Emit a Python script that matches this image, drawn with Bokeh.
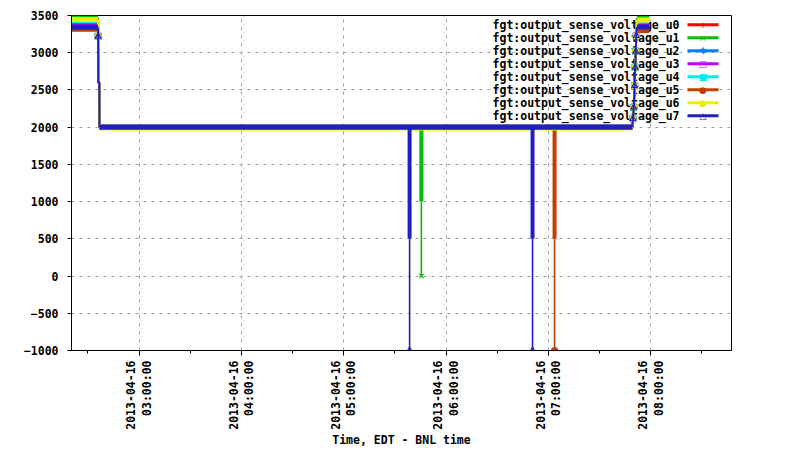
import math
import pandas as pd
from bokeh.plotting import figure
from bokeh.models import Range1d, FixedTicker, DatetimeTickFormatter, Label, BoxAnnotation
from bokeh.embed import file_html
from bokeh.resources import INLINE

DAY = "2013-04-16 "


def ts(s):
    return pd.Timestamp(DAY + s)


# ---------------- data ----------------
names = ["fgt:output_sense_voltage_u%d" % i for i in range(8)]
colors = ["#ff0000", "#00c000", "#0080ff", "#c000ff", "#00eeee", "#c04000", "#eeee00", "#2020c0"]
marker_types = ["cross", "x", "asterisk", "square", "square", "circle", "circle", "triangle"]
marker_filled = [False, False, False, False, True, True, True, False]
legend_symbols = ["+", "×", "✱", "□", "■", "●", "●", "△"]

x_range_start = "02:20:24"
x_range_end = "08:47:18"
y_range_start = -1000
y_range_end = 3500
y_ticks = [-1000, -500, 0, 500, 1000, 1500, 2000, 2500, 3000, 3500]
x_major_ticks = ["03:00:00", "04:00:00", "05:00:00", "06:00:00", "07:00:00", "08:00:00"]
x_minor_ticks = ["02:30:00", "03:30:00", "04:30:00", "05:30:00", "06:30:00", "07:30:00", "08:30:00"]

# stable levels per channel (u0..u7)
data_start = "02:20:24"
data_end = "07:59:00"
start_level = [3470, 3462, 3340, 3400, 3430, 3315, 3445, 3342]
plateau_level = [2000, 2000, 2000, 2000, 2000, 2000, 1988, 2000]
end_level = [3465, 3460, 3340, 3392, 3425, 3300, 3440, 3345]

# ramp down after start (first sample after the step carries a marker)
drop_times = ["02:35:58", "02:36:00", "02:36:05", "02:36:40", "02:36:45"]
drop_values = [3220, 2600, 2600]
drop_marked = [True, False, False]

# ramp up at the end
ramp_times = ["07:49:10", "07:49:30", "07:50:00", "07:50:30", "07:50:50", "07:51:10", "07:51:30", "07:51:50"]
ramp_values = [2113, 2265, 2557, 2802, 3017, 3228]

# glitches
spike_series = [7, 1, 7, 5]
spike_times = ["05:38:36", "05:45:30", "06:50:40", "07:03:35"]
spike_mid = [500, 1000, 500, 500]
spike_low = [-1000, 0, -1000, -1000]

# ---------------- figure ----------------
W, H = 800, 450
BL, BR, BT, BB = 71, 69, 15, 100
FW, FH = W - BL - BR, H - BT - BB

p = figure(width=W, height=H, x_axis_type="datetime", output_backend="svg",
           toolbar_location=None, min_border_left=BL, min_border_right=BR,
           min_border_top=BT, min_border_bottom=BB,
           x_range=Range1d(ts(x_range_start), ts(x_range_end)),
           y_range=Range1d(y_range_start, y_range_end))
p.background_fill_color = "white"
p.border_fill_color = "white"
p.outline_line_color = "black"
p.outline_line_width = 1

FONT = "DejaVu Sans Mono"
FS = "11.5px"

ms = lambda s: ts(s).value / 1e6
p.xaxis.ticker = FixedTicker(ticks=[ms(s) for s in x_major_ticks],
                             minor_ticks=[ms(s) for s in x_minor_ticks])
fmt = "%Y-%m-%d\n%H:%M:%S"
p.xaxis.formatter = DatetimeTickFormatter(
    microseconds=fmt, milliseconds=fmt, seconds=fmt, minsec=fmt, minutes=fmt,
    hourmin=fmt, hours=fmt, days=fmt, months=fmt, years=fmt)
p.xaxis.major_label_orientation = math.pi / 2
p.xaxis.axis_label = "Time, EDT - BNL time"
p.yaxis.ticker = FixedTicker(ticks=y_ticks)

for ax in (p.xaxis[0], p.yaxis[0]):
    ax.axis_line_color = "black"
    ax.major_tick_line_color = "black"
    ax.minor_tick_line_color = "black"
    ax.major_tick_in = 0
    ax.minor_tick_in = 0
    ax.major_label_text_font = FONT
    ax.major_label_text_font_style = "bold"
    ax.major_label_text_font_size = FS
    ax.major_label_text_color = "black"
    ax.axis_label_text_font = FONT
    ax.axis_label_text_font_style = "bold"
    ax.axis_label_text_font_size = FS
    ax.axis_label_text_color = "black"

p.xaxis.major_tick_out = 5
p.xaxis.minor_tick_out = 3
p.xaxis.major_label_standoff = 5
p.xaxis.axis_label_standoff = 0
p.xaxis.major_label_text_line_height = 1.1
p.yaxis.major_tick_out = 4
p.yaxis.minor_tick_out = 0
p.yaxis.major_label_standoff = 9

p.grid.grid_line_color = "#a0a0a0"
p.grid.grid_line_dash = "3 5"
p.grid.grid_line_width = 1

# ---------------- legend (drawn beneath the traces) ----------------
for i, name in enumerate(names):
    yc = FH - 9.3 - 13 * i
    p.add_layout(Label(x=608, y=yc, x_units="screen", y_units="screen", text=name,
                       text_align="right", text_baseline="middle", text_font=FONT,
                       text_font_style="bold", text_font_size=FS, text_color="black",
                       level="underlay"))
    p.add_layout(BoxAnnotation(left=616, right=647, bottom=yc - 1.5, top=yc + 1.5,
                               left_units="screen", right_units="screen",
                               bottom_units="screen", top_units="screen",
                               fill_color=colors[i], fill_alpha=1, line_color=None))
    p.add_layout(Label(x=631.5, y=yc, x_units="screen", y_units="screen",
                       text=legend_symbols[i], text_align="center", text_baseline="middle",
                       text_font="DejaVu Sans", text_font_size="9px", text_color=colors[i]))

# ---------------- traces ----------------
for i in range(8):
    c = colors[i]
    # thin connecting lines for the transitions
    dx = [ts(s) for s in drop_times]
    dy = [start_level[i]] + drop_values + [plateau_level[i]]
    rx = [ts(s) for s in ramp_times]
    ry = [plateau_level[i]] + ramp_values + [end_level[i]]
    p.line(dx, dy, line_color=c, line_width=2)
    p.line(rx, ry, line_color=c, line_width=2)

    # glitches of this channel
    sel = [k for k in range(len(spike_series)) if spike_series[k] == i]
    sx = [ts(spike_times[k]) for k in sel]
    smid = [spike_mid[k] for k in sel]
    slow = [spike_low[k] for k in sel]
    if sx:
        p.segment(x0=sx, y0=[plateau_level[i]] * len(sx), x1=sx, y1=smid,
                  line_color=c, line_width=4)
        p.segment(x0=sx, y0=smid, x1=sx, y1=slow, line_color=c, line_width=1.6)

    # densely sampled stable periods -> thick bands
    p.segment(x0=[ts(data_start), ts(drop_times[-1]), ts(ramp_times[-1])],
              x1=[ts(drop_times[0]), ts(ramp_times[0]), ts(data_end)],
              y0=[start_level[i], plateau_level[i], end_level[i]],
              y1=[start_level[i], plateau_level[i], end_level[i]],
              line_color=c, line_width=5)

    # sample markers
    dmx = [x for x, m in zip(dx[1:-1], drop_marked) if m]
    dmy = [v for v, m in zip(drop_values, drop_marked) if m]
    mx = dmx + rx[1:-1] + sx
    my = dmy + ramp_values + slow
    p.scatter(mx, my, marker=marker_types[i], size=6, line_color=c, line_width=1.2,
              fill_color=c if marker_filled[i] else None)

open("out.html", "w").write(file_html(p, INLINE))
